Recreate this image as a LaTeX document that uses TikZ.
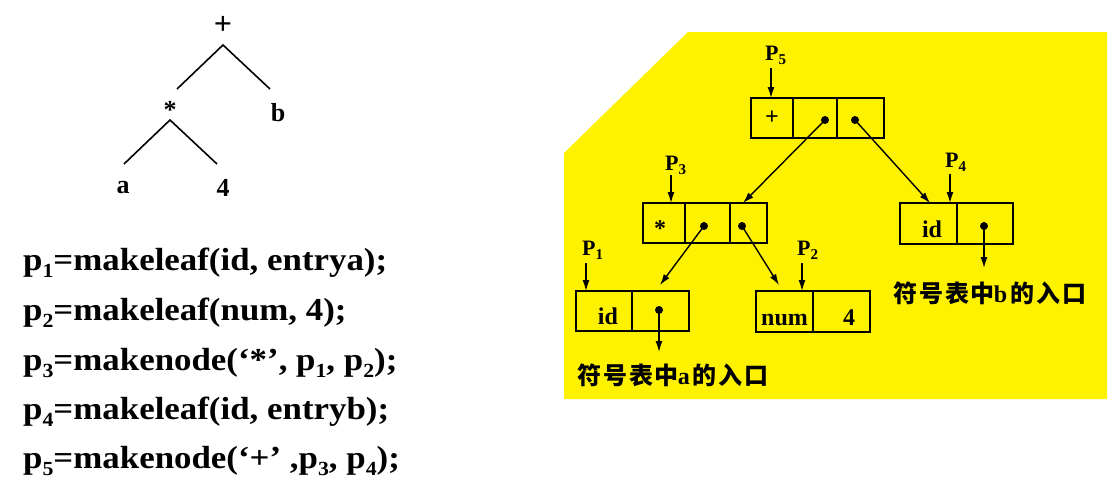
\documentclass[tikz,border=0pt]{standalone}
\usepackage{fontspec}
\setmainfont{Liberation Serif}
\newfontfamily\cjk[LetterSpace=8]{Noto Sans CJK SC}
\usetikzlibrary{arrows.meta}
\newcommand\codefont{\fontsize{32}{34}\selectfont\bfseries}
\newcommand\boxfont{\fontsize{24}{28}\selectfont\bfseries}
\newcommand\plabfont{\fontsize{22}{24}\selectfont\bfseries}
\newcommand\csub[1]{\raisebox{-7pt}{\fontsize{20}{20}\selectfont #1}}
\newcommand\psub[1]{\raisebox{-4pt}{\fontsize{15}{15}\selectfont #1}}
\newcommand\entrylabel[1]{{\cjk\fontsize{24}{26}\selectfont\bfseries 符号表中}\hspace{-1pt}{\fontsize{24}{24}\selectfont\bfseries #1}\hspace{3pt}{\cjk\fontsize{24}{26}\selectfont\bfseries 的入口}}
\tikzset{
  cell/.style={draw, line width=1.6pt, inner sep=0pt, minimum height=40pt,
    text height=27pt, text depth=0pt, font=\boxfont},
  ptr/.style={circle, fill=black, inner sep=0pt, minimum size=8pt},
  arr/.style={-{Latex[length=11pt,width=7pt]}, line width=1.4pt},
  plab/.style={anchor=base west, inner sep=0pt, font=\plabfont},
  codeline/.style={anchor=base west, inner sep=0pt, font=\codefont},
  treelab/.style={inner sep=0pt, font=\fontsize{26}{27}\selectfont\bfseries},
  treeline/.style={line width=1.6pt},
  entry/.style={anchor=west, inner sep=0pt}
}
\begin{document}
\begin{tikzpicture}[x=1pt,y=-1pt]
\useasboundingbox (0,0) rectangle (1120,499);
% yellow background
\fill[yellow] (564,153) -- (688,32) -- (1107,32) -- (1107,399) -- (564,399) -- cycle;

% ---------- syntax tree ----------
\node[treelab, font=\fontsize{32}{32}\selectfont\bfseries] (plus) at (223,25) {+};
\node[treelab] (star) at (170,110) {*};
\node[treelab] (bb) at (278,113) {b};
\node[treelab] (aa) at (123,188) {a};
\node[treelab] (four) at (223,188) {4};
\coordinate (plusfoot) at (223,45);
\coordinate (starhead) at (177,89);
\coordinate (bhead) at (270,89);
\coordinate (starfoot) at (170,120);
\coordinate (ahead) at (124,164);
\coordinate (fourhead) at (217,164);
\draw[treeline] (starhead) -- (plusfoot) -- (bhead);
\draw[treeline] (ahead) -- (starfoot) -- (fourhead);

% ---------- code ----------
\node[codeline] (l1) at (23,270) {\scalebox{1.09}[1]{p\csub{1}=makeleaf(id, entrya);}};
\node[codeline] (l2) at (23,320) {\scalebox{1.09}[1]{p\csub{2}=makeleaf(num, 4);}};
\node[codeline] (l3) at (23,370) {\scalebox{1.09}[1]{p\csub{3}=makenode(‘*’, p\csub{1}, p\csub{2});}};
\node[codeline] (l4) at (23,419) {\scalebox{1.09}[1]{p\csub{4}=makeleaf(id, entryb);}};
\node[codeline] (l5) at (23,468) {\scalebox{1.09}[1]{p\csub{5}=makenode(‘+’ ,p\csub{3}, p\csub{4});}};

% ---------- P5 ----------
\node[cell, minimum width=42pt] (p5a) at (772,118) {\raisebox{7pt}{+}};
\node[cell, minimum width=44pt] (p5b) at (815,118) {};
\node[cell, minimum width=47pt] (p5c) at (860.5,118) {};
\node[ptr] (d5a) at (825,120) {};
\node[ptr] (d5b) at (855,120) {};
% ---------- P3 ----------
\node[cell, minimum width=42pt] (p3a) at (664,223) {\hspace{-8pt}*};
\node[cell, minimum width=45pt] (p3b) at (707.5,223) {};
\node[cell, minimum width=37pt] (p3c) at (748.5,223) {};
\node[ptr] (d3a) at (704,226) {};
\node[ptr] (d3b) at (742,226) {};
% ---------- P4 ----------
\node[cell, minimum width=57pt, minimum height=41pt] (p4a) at (928.5,223.5) {\hspace{7pt}id};
\node[cell, minimum width=56pt, minimum height=41pt] (p4b) at (985,223.5) {};
\node[ptr] (d4) at (984,226) {};
% ---------- P1 ----------
\node[cell, minimum width=56pt] (p1a) at (604,311) {\hspace{8pt}id};
\node[cell, minimum width=57pt] (p1b) at (660.5,311) {};
\node[ptr] (d1) at (659,310) {};
% ---------- P2 ----------
\node[cell, minimum width=57pt, minimum height=41pt] (p2a) at (784.5,311.5) {num};
\node[cell, minimum width=57pt, minimum height=41pt] (p2b) at (841.5,311.5) {\hspace{15pt}4};

% ---------- P labels ----------
\node[plab] (lp5) at (765,60) {P\psub{5}};
\node[plab] (lp3) at (665,170) {P\psub{3}};
\node[plab] (lp4) at (945,167) {P\psub{4}};
\node[plab] (lp1) at (582,255) {P\psub{1}};
\node[plab] (lp2) at (797,255) {P\psub{2}};
\coordinate (s5) at (771,68);  \coordinate (e5) at (771,98);
\coordinate (s3) at (671,175); \coordinate (e3) at (671,203);
\coordinate (s4) at (950,174); \coordinate (e4) at (950,203);
\coordinate (s1) at (586,263); \coordinate (e1) at (586,291);
\coordinate (s2) at (802,263); \coordinate (e2) at (802,291);
\draw[arr] (s5) -- (e5);
\draw[arr] (s3) -- (e3);
\draw[arr] (s4) -- (e4);
\draw[arr] (s1) -- (e1);
\draw[arr] (s2) -- (e2);

% ---------- entry labels ----------
\node[entry] (ea) at (577,375) {\entrylabel{a}};
\node[entry] (eb) at (893,293) {\entrylabel{b}};

% ---------- pointer arrows ----------
\coordinate (t3) at (743,203);
\coordinate (t4) at (930,203);
\coordinate (t1) at (660,285);
\coordinate (t2) at (779,285);
\coordinate (t4e) at (984,268);
\coordinate (t1e) at (659,352);
\draw[arr] (d5a.center) -- (t3);
\draw[arr] (d5b.center) -- (t4);
\draw[arr] (d3a.center) -- (t1);
\draw[arr] (d3b.center) -- (t2);
\draw[arr] (d4.center) -- (t4e);
\draw[arr] (d1.center) -- (t1e);
\end{tikzpicture}
\end{document}
